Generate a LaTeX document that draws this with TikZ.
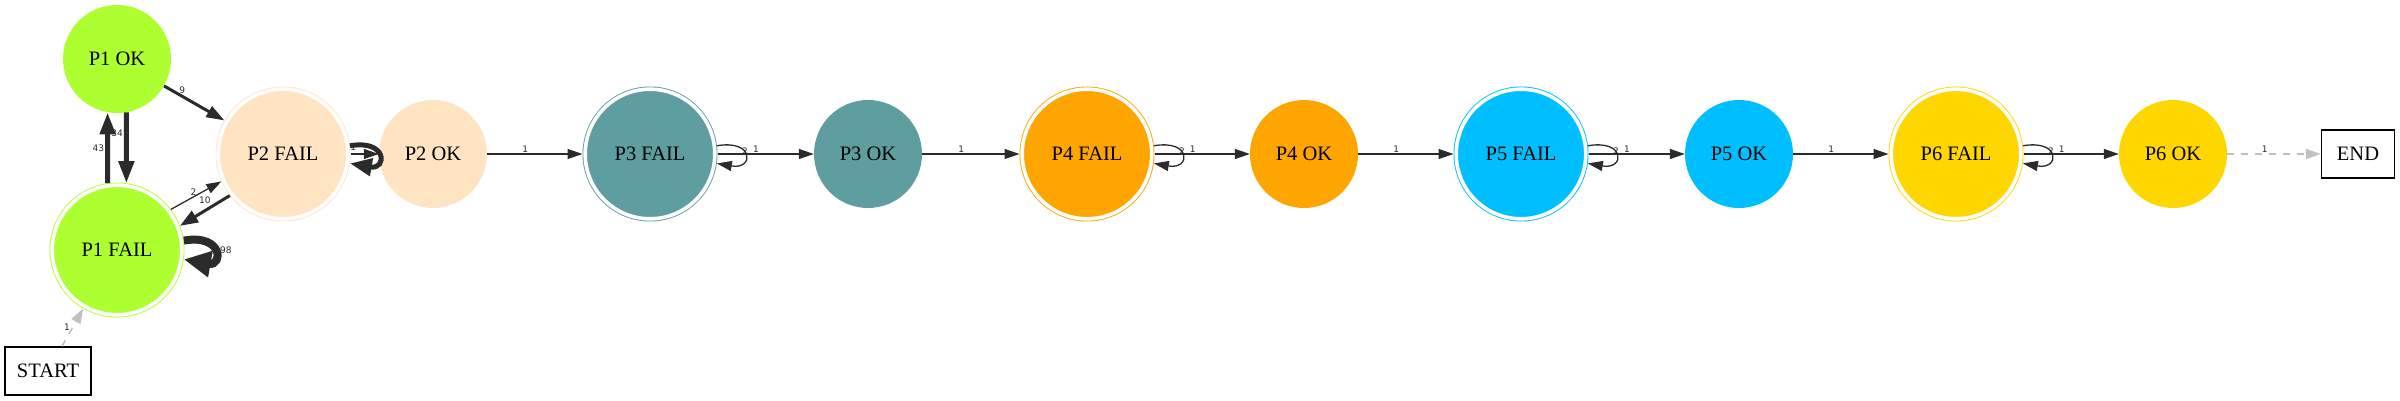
\documentclass[tikz,border=0pt]{standalone}
\usepackage{fontspec}
\setmainfont{Liberation Serif}
\newfontfamily\labelfont{DejaVu Sans}
\usetikzlibrary{arrows.meta}
\definecolor{greenyellow}{HTML}{ADFF2F}
\definecolor{bisque}{HTML}{FFE4C4}
\definecolor{cadetblue}{HTML}{5F9EA0}
\definecolor{orangeweb}{HTML}{FFA500}
\definecolor{deepskyblue}{HTML}{00BFFF}
\definecolor{goldweb}{HTML}{FFD700}
\definecolor{edgegray}{HTML}{2B2B2B}
\definecolor{silver}{HTML}{C0C0C0}
\newcommand{\statefont}{\fontsize{20.5}{24}\selectfont}
\newcommand{\wfont}{\labelfont\fontsize{9}{10}\selectfont}
\begin{document}
\begin{tikzpicture}[x=1pt,y=1pt,
		>={Triangle[length=15pt,width=10pt]},
		okstate/.style={circle, fill=#1, minimum size=108pt, inner sep=0pt, font=\statefont},
		failstate/.style={circle, fill=#1, draw=#1, line width=0.9pt, double=white,
			double distance=3.6pt, minimum size=129.6pt, inner sep=0pt, outer sep=2.7pt, font=\statefont},
		termbox/.style={draw=black, line width=1.3pt, minimum height=48pt, font=\statefont},
		trans/.style={draw=edgegray, line width=1.3pt, ->},
		ghost/.style={draw=silver, line width=1.5pt, dash pattern=on 7pt off 7pt, ->},
		wlbl/.style={font=\wfont, text=edgegray, inner sep=1pt}]
	\useasboundingbox (0,0) rectangle (2400,400);
	\node (p1ok) at (117,341) [okstate=greenyellow] {P1 OK};
	\node (p1fail) at (117,150) [failstate=greenyellow] {P1 FAIL};
	\node (p2fail) at (283,246) [failstate=bisque] {P2 FAIL};
	\node (p2ok) at (433,246) [okstate=bisque] {P2 OK};
	\node (p3fail) at (650,246) [failstate=cadetblue] {P3 FAIL};
	\node (p3ok) at (868,246) [okstate=cadetblue] {P3 OK};
	\node (p4fail) at (1087,246) [failstate=orangeweb] {P4 FAIL};
	\node (p4ok) at (1304,246) [okstate=orangeweb] {P4 OK};
	\node (p5fail) at (1521,246) [failstate=deepskyblue] {P5 FAIL};
	\node (p5ok) at (1739,246) [okstate=deepskyblue] {P5 OK};
	\node (p6fail) at (1956,246) [failstate=goldweb] {P6 FAIL};
	\node (p6ok) at (2173,246) [okstate=goldweb] {P6 OK};
	\node (startbox) at (48,29) [termbox, minimum width=86pt] {START};
	\node (endbox) at (2358,246) [termbox, minimum width=73pt] {END};

	\draw [ghost] ([xshift=14pt]startbox.north) -- node [wlbl, pos=0.5, left=1pt] {1} (p1fail.240);
	\draw [trans, line width=3pt, -{Triangle[length=18pt,width=12pt]}]
		(p1ok) -- node [wlbl, pos=0.3, above] {9} (p2fail);
	\draw [trans, line width=5pt, -{Triangle[length=22pt,width=15pt]}]
		(p1fail.98) -- node [wlbl, pos=0.5, left] {43} (p1ok.260);
	\draw [trans, line width=5pt, -{Triangle[length=22pt,width=15pt]}]
		(p1ok.280) -- node [wlbl, pos=0.3, left] {34} (p1fail.82);
	\draw [trans] (p1fail.37) -- node [wlbl, pos=0.45, above] {2} (p2fail.204);
	\draw [trans, line width=3pt, -{Triangle[length=18pt,width=13pt]}]
		(p2fail.218) -- node [wlbl, pos=0.5, above=5pt] {10} (p1fail.21);
	\draw [trans, line width=8pt, -{Triangle[length=27pt,width=25pt]}]
		(p1fail.8) .. controls +(10:40) and +(-10:40) .. node [wlbl, pos=0.5, right=-4pt] {598} (p1fail.-8);
	\draw [trans, line width=5pt, -{Triangle[length=22pt,width=17pt]}]
		(p2fail.7) .. controls +(10:38) and +(-10:38) .. (p2fail.-8);
	\draw [trans] (p2fail) -- node [wlbl, pos=0.1, above=2pt] {1} (p2ok);
	\draw [trans] (p2ok) -- node [wlbl, pos=0.4, above] {1} (p3fail);

	\draw [trans] (p3fail.7) .. controls +(10:38) and +(-10:38) .. node [wlbl, pos=0.5, yshift=3pt] {2} (p3fail.-8);
	\draw [trans] (p3fail) -- node [wlbl, pos=0.4, above] {1} (p3ok);
	\draw [trans] (p3ok) -- node [wlbl, pos=0.4, above] {1} (p4fail);
	\draw [trans] (p4fail.7) .. controls +(10:38) and +(-10:38) .. node [wlbl, pos=0.5, yshift=3pt] {2} (p4fail.-8);
	\draw [trans] (p4fail) -- node [wlbl, pos=0.4, above] {1} (p4ok);
	\draw [trans] (p4ok) -- node [wlbl, pos=0.4, above] {1} (p5fail);
	\draw [trans] (p5fail.7) .. controls +(10:38) and +(-10:38) .. node [wlbl, pos=0.5, yshift=3pt] {2} (p5fail.-8);
	\draw [trans] (p5fail) -- node [wlbl, pos=0.4, above] {1} (p5ok);
	\draw [trans] (p5ok) -- node [wlbl, pos=0.4, above] {1} (p6fail);
	\draw [trans] (p6fail.7) .. controls +(10:38) and +(-10:38) .. node [wlbl, pos=0.5, yshift=3pt] {2} (p6fail.-8);
	\draw [trans] (p6fail) -- node [wlbl, pos=0.4, above] {1} (p6ok);
	\draw [ghost] (p6ok) -- node [wlbl, pos=0.4, above] {1} (endbox);
\end{tikzpicture}
\end{document}
